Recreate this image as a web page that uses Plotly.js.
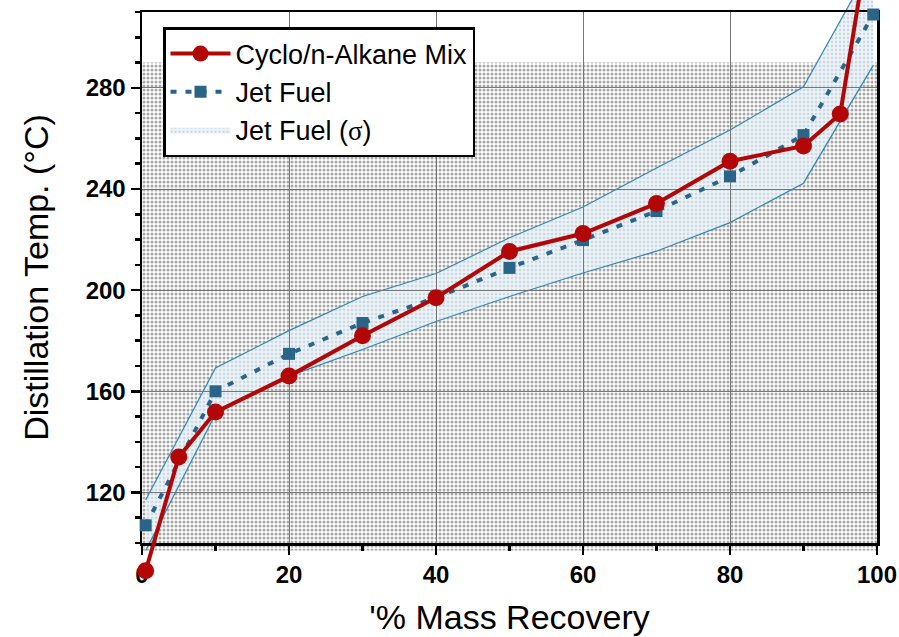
<!DOCTYPE html>
<html>
<head>
<meta charset="utf-8">
<script src="https://cdn.plot.ly/plotly-3.0.1.min.js"></script>
<style>html,body{margin:0;padding:0;background:#fff;}#chart{width:899px;height:637px;}</style>
</head>
<body>
<div id="chart"></div>
<script>
// ---- data ----
const mixX = [0.5, 5, 10, 20, 30, 40, 50, 60, 70, 80, 90, 95, 99.5];
const mixY = [89, 134, 151.8, 166, 182, 197, 215.3, 222.4, 234.3, 251, 257, 269.7, 350];

const jetX = [0.5, 10, 20, 30, 40, 50, 60, 70, 80, 90, 99.5];
const jetY = [107, 160, 174.8, 187, 197, 208.8, 219.8, 231.3, 245, 261.3, 309];
const jetUpper = [117, 169.2, 184, 197.5, 206.6, 220.7, 232.9, 248.3, 263.3, 280.4, 330];
const jetLower = [97, 151, 166, 176.5, 187.6, 197.5, 206.8, 215.4, 226.7, 242.3, 289];

const hatchX = [0, 100];
const hatchY = [97, 290];

const xTicks = [0, 20, 40, 60, 80, 100];
const yTicks = [120, 160, 200, 240, 280];
const xRange = [0, 100];
const yRange = [100, 310];

// ---- geometry (pixels) ----
const W = 899, H = 637;
const M = {l: 110, r: 0, t: 0, b: 20};
const frame = {left: 142, right: 877, top: 12, bottom: 543};
const pw = W - M.l - M.r, ph = H - M.t - M.b;
const xDom = [(frame.left - M.l) / pw, (frame.right - M.l) / pw];
const yDom = [(H - M.b - frame.bottom) / ph, (H - M.b - frame.top) / ph];
const xs = (xRange[1] - xRange[0]) / (frame.right - frame.left);
const ys = (yRange[1] - yRange[0]) / (frame.bottom - frame.top);
const wideX = [xRange[0] - (frame.left - M.l) * xs, xRange[1] + (W - M.r - frame.right) * xs];
const wideY = [yRange[0] - (H - M.b - frame.bottom) * ys, yRange[1] + (frame.top - M.t) * ys];

const FONT = 'Arial, "Liberation Sans", sans-serif';
const bandColor = '#2f86b5';
const jetColor = '#2a6488';
const mixColor = '#b30707';
const under = {xaxis: 'x', yaxis: 'y'};    // hatch + band, below the frame/grid
const over = {xaxis: 'x3', yaxis: 'y3'};   // lines + markers, above the frame

const traces = [
  Object.assign({
    x: [hatchX[0], hatchX[1], hatchX[1], hatchX[0], hatchX[0]],
    y: [hatchY[0], hatchY[0], hatchY[1], hatchY[1], hatchY[0]],
    mode: 'lines', fill: 'toself', showlegend: false, hoverinfo: 'skip',
    line: {width: 0, color: 'rgba(0,0,0,0)'},
    fillcolor: 'rgba(0,0,0,0)',
    fillpattern: {shape: '.', size: 4, solidity: 0.45, fgcolor: '#a6a6a6', bgcolor: 'rgba(255,255,255,0.1)'}
  }, under),
  Object.assign({
    x: jetX, y: jetLower, mode: 'lines', showlegend: false, hoverinfo: 'skip',
    line: {color: bandColor, width: 1.2}
  }, under),
  Object.assign({
    x: jetX, y: jetUpper, mode: 'lines', fill: 'tonexty',
    name: 'Jet Fuel (<span style="font-family:\'Liberation Serif\',serif">σ</span>)',
    legendrank: 3,
    line: {color: 'rgba(0,0,0,0)', width: 0},
    fillcolor: 'rgba(234,242,248,0.92)',
    fillpattern: {shape: '.', size: 4, solidity: 0.25, fgcolor: '#c9d5dd', bgcolor: 'rgba(234,242,248,0.92)', fillmode: 'replace'}
  }, under),
  Object.assign({
    x: jetX, y: jetUpper, mode: 'lines', showlegend: false, hoverinfo: 'skip',
    line: {color: bandColor, width: 1.2}
  }, under),
  // anchor trace so the framed subplot (axes, grid) is drawn
  {x: [null], y: [null], xaxis: 'x2', yaxis: 'y2', mode: 'markers', showlegend: false, hoverinfo: 'skip'},
  Object.assign({
    x: jetX, y: jetY, mode: 'lines+markers', name: 'Jet Fuel', legendrank: 2,
    line: {color: jetColor, width: 4, dash: '6px,9px'},
    marker: {symbol: 'square', size: 12, color: jetColor}
  }, over),
  Object.assign({
    x: mixX, y: mixY, mode: 'lines+markers', name: 'Cyclo/n-Alkane Mix', legendrank: 1,
    line: {color: mixColor, width: 4},
    marker: {symbol: 'circle', size: 17, color: mixColor}
  }, over)
];

const axisCommon = {
  showline: true, linecolor: '#000', linewidth: 2.5, mirror: true,
  ticks: 'outside', ticklen: 9, tickwidth: 2.5, tickcolor: '#000',
  showgrid: true, gridcolor: '#777777', gridwidth: 1,
  zeroline: false,
  tickfont: {family: FONT, size: 24, color: '#000', weight: 'bold'}
};
const minorCommon = {ticks: 'outside', ticklen: 5, tickwidth: 2.5, tickcolor: '#000', showgrid: false};
const hidden = {visible: false, showgrid: false, zeroline: false};

const layout = {
  width: W, height: H,
  margin: M,
  paper_bgcolor: '#fff', plot_bgcolor: 'rgba(0,0,0,0)',
  font: {family: FONT, color: '#000'},
  xaxis: Object.assign({domain: [0, 1], anchor: 'y', range: wideX}, hidden),
  yaxis: Object.assign({domain: [0, 1], anchor: 'x', range: wideY}, hidden),
  xaxis2: Object.assign({}, axisCommon, {
    domain: xDom, anchor: 'y2',
    range: xRange, tickvals: xTicks, ticktext: xTicks.map(String),
    minor: Object.assign({}, minorCommon, {dtick: 10, tick0: 0}),
    title: {text: "'% Mass Recovery", font: {family: FONT, size: 34, color: '#000'}, standoff: 18}
  }),
  yaxis2: Object.assign({}, axisCommon, {
    domain: yDom, anchor: 'x2',
    range: yRange, tickvals: yTicks, ticktext: yTicks.map(String),
    minor: Object.assign({}, minorCommon, {dtick: 10, tick0: 100}),
    title: {text: 'Distillation Temp. (°C)', font: {family: FONT, size: 34, color: '#000'}, standoff: 27}
  }),
  xaxis3: Object.assign({domain: [0, 1], anchor: 'y3', range: wideX}, hidden),
  yaxis3: Object.assign({domain: [0, 1], anchor: 'x3', range: wideY}, hidden),
  legend: {
    x: (163 - M.l) / pw, y: (H - M.b - 27) / ph, xanchor: 'left', yanchor: 'top',
    traceorder: 'normal',
    bgcolor: '#fff', bordercolor: '#000', borderwidth: 2.5,
    font: {family: FONT, size: 27, color: '#000'},
    itemwidth: 60
  },
  showlegend: true
};

Plotly.newPlot('chart', traces, layout, {displayModeBar: false, staticPlot: true});
</script>
</body>
</html>
